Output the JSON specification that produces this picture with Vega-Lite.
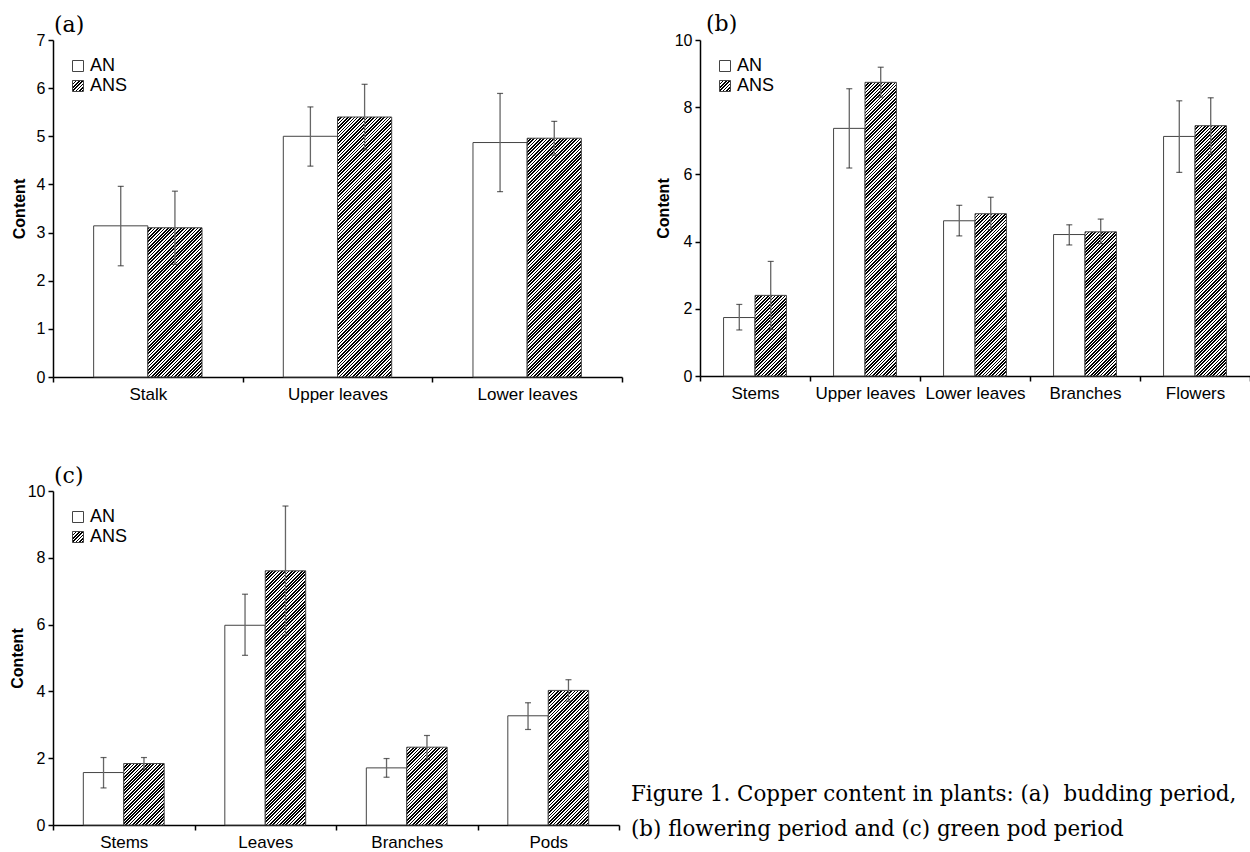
{
"$schema": "https://vega.github.io/schema/vega-lite/v6.json",
"padding": {"left": 9, "top": 13, "right": 0, "bottom": 0},
"background": "white",
"params": [{"name": "hatch", "value": [
{"offset":0,"color":"#000"},{"offset":0.005,"color":"#000"},{"offset":0.005,"color":"#fff"},{"offset":0.01,"color":"#fff"},
{"offset":0.01,"color":"#000"},{"offset":0.015,"color":"#000"},{"offset":0.015,"color":"#fff"},{"offset":0.02,"color":"#fff"},
{"offset":0.02,"color":"#000"},{"offset":0.025,"color":"#000"},{"offset":0.025,"color":"#fff"},{"offset":0.03,"color":"#fff"},
{"offset":0.03,"color":"#000"},{"offset":0.035,"color":"#000"},{"offset":0.035,"color":"#fff"},{"offset":0.04,"color":"#fff"},
{"offset":0.04,"color":"#000"},{"offset":0.045,"color":"#000"},{"offset":0.045,"color":"#fff"},{"offset":0.05,"color":"#fff"},
{"offset":0.05,"color":"#000"},{"offset":0.055,"color":"#000"},{"offset":0.055,"color":"#fff"},{"offset":0.06,"color":"#fff"},
{"offset":0.06,"color":"#000"},{"offset":0.065,"color":"#000"},{"offset":0.065,"color":"#fff"},{"offset":0.07,"color":"#fff"},
{"offset":0.07,"color":"#000"},{"offset":0.075,"color":"#000"},{"offset":0.075,"color":"#fff"},{"offset":0.08,"color":"#fff"},
{"offset":0.08,"color":"#000"},{"offset":0.085,"color":"#000"},{"offset":0.085,"color":"#fff"},{"offset":0.09,"color":"#fff"},
{"offset":0.09,"color":"#000"},{"offset":0.095,"color":"#000"},{"offset":0.095,"color":"#fff"},{"offset":0.1,"color":"#fff"},
{"offset":0.1,"color":"#000"},{"offset":0.105,"color":"#000"},{"offset":0.105,"color":"#fff"},{"offset":0.11,"color":"#fff"},
{"offset":0.11,"color":"#000"},{"offset":0.115,"color":"#000"},{"offset":0.115,"color":"#fff"},{"offset":0.12,"color":"#fff"},
{"offset":0.12,"color":"#000"},{"offset":0.125,"color":"#000"},{"offset":0.125,"color":"#fff"},{"offset":0.13,"color":"#fff"},
{"offset":0.13,"color":"#000"},{"offset":0.135,"color":"#000"},{"offset":0.135,"color":"#fff"},{"offset":0.14,"color":"#fff"},
{"offset":0.14,"color":"#000"},{"offset":0.145,"color":"#000"},{"offset":0.145,"color":"#fff"},{"offset":0.15,"color":"#fff"},
{"offset":0.15,"color":"#000"},{"offset":0.155,"color":"#000"},{"offset":0.155,"color":"#fff"},{"offset":0.16,"color":"#fff"},
{"offset":0.16,"color":"#000"},{"offset":0.165,"color":"#000"},{"offset":0.165,"color":"#fff"},{"offset":0.17,"color":"#fff"},
{"offset":0.17,"color":"#000"},{"offset":0.175,"color":"#000"},{"offset":0.175,"color":"#fff"},{"offset":0.18,"color":"#fff"},
{"offset":0.18,"color":"#000"},{"offset":0.185,"color":"#000"},{"offset":0.185,"color":"#fff"},{"offset":0.19,"color":"#fff"},
{"offset":0.19,"color":"#000"},{"offset":0.195,"color":"#000"},{"offset":0.195,"color":"#fff"},{"offset":0.2,"color":"#fff"},
{"offset":0.2,"color":"#000"},{"offset":0.205,"color":"#000"},{"offset":0.205,"color":"#fff"},{"offset":0.21,"color":"#fff"},
{"offset":0.21,"color":"#000"},{"offset":0.215,"color":"#000"},{"offset":0.215,"color":"#fff"},{"offset":0.22,"color":"#fff"},
{"offset":0.22,"color":"#000"},{"offset":0.225,"color":"#000"},{"offset":0.225,"color":"#fff"},{"offset":0.23,"color":"#fff"},
{"offset":0.23,"color":"#000"},{"offset":0.235,"color":"#000"},{"offset":0.235,"color":"#fff"},{"offset":0.24,"color":"#fff"},
{"offset":0.24,"color":"#000"},{"offset":0.245,"color":"#000"},{"offset":0.245,"color":"#fff"},{"offset":0.25,"color":"#fff"},
{"offset":0.25,"color":"#000"},{"offset":0.255,"color":"#000"},{"offset":0.255,"color":"#fff"},{"offset":0.26,"color":"#fff"},
{"offset":0.26,"color":"#000"},{"offset":0.265,"color":"#000"},{"offset":0.265,"color":"#fff"},{"offset":0.27,"color":"#fff"},
{"offset":0.27,"color":"#000"},{"offset":0.275,"color":"#000"},{"offset":0.275,"color":"#fff"},{"offset":0.28,"color":"#fff"},
{"offset":0.28,"color":"#000"},{"offset":0.285,"color":"#000"},{"offset":0.285,"color":"#fff"},{"offset":0.29,"color":"#fff"},
{"offset":0.29,"color":"#000"},{"offset":0.295,"color":"#000"},{"offset":0.295,"color":"#fff"},{"offset":0.3,"color":"#fff"},
{"offset":0.3,"color":"#000"},{"offset":0.305,"color":"#000"},{"offset":0.305,"color":"#fff"},{"offset":0.31,"color":"#fff"},
{"offset":0.31,"color":"#000"},{"offset":0.315,"color":"#000"},{"offset":0.315,"color":"#fff"},{"offset":0.32,"color":"#fff"},
{"offset":0.32,"color":"#000"},{"offset":0.325,"color":"#000"},{"offset":0.325,"color":"#fff"},{"offset":0.33,"color":"#fff"},
{"offset":0.33,"color":"#000"},{"offset":0.335,"color":"#000"},{"offset":0.335,"color":"#fff"},{"offset":0.34,"color":"#fff"},
{"offset":0.34,"color":"#000"},{"offset":0.345,"color":"#000"},{"offset":0.345,"color":"#fff"},{"offset":0.35,"color":"#fff"},
{"offset":0.35,"color":"#000"},{"offset":0.355,"color":"#000"},{"offset":0.355,"color":"#fff"},{"offset":0.36,"color":"#fff"},
{"offset":0.36,"color":"#000"},{"offset":0.365,"color":"#000"},{"offset":0.365,"color":"#fff"},{"offset":0.37,"color":"#fff"},
{"offset":0.37,"color":"#000"},{"offset":0.375,"color":"#000"},{"offset":0.375,"color":"#fff"},{"offset":0.38,"color":"#fff"},
{"offset":0.38,"color":"#000"},{"offset":0.385,"color":"#000"},{"offset":0.385,"color":"#fff"},{"offset":0.39,"color":"#fff"},
{"offset":0.39,"color":"#000"},{"offset":0.395,"color":"#000"},{"offset":0.395,"color":"#fff"},{"offset":0.4,"color":"#fff"},
{"offset":0.4,"color":"#000"},{"offset":0.405,"color":"#000"},{"offset":0.405,"color":"#fff"},{"offset":0.41,"color":"#fff"},
{"offset":0.41,"color":"#000"},{"offset":0.415,"color":"#000"},{"offset":0.415,"color":"#fff"},{"offset":0.42,"color":"#fff"},
{"offset":0.42,"color":"#000"},{"offset":0.425,"color":"#000"},{"offset":0.425,"color":"#fff"},{"offset":0.43,"color":"#fff"},
{"offset":0.43,"color":"#000"},{"offset":0.435,"color":"#000"},{"offset":0.435,"color":"#fff"},{"offset":0.44,"color":"#fff"},
{"offset":0.44,"color":"#000"},{"offset":0.445,"color":"#000"},{"offset":0.445,"color":"#fff"},{"offset":0.45,"color":"#fff"},
{"offset":0.45,"color":"#000"},{"offset":0.455,"color":"#000"},{"offset":0.455,"color":"#fff"},{"offset":0.46,"color":"#fff"},
{"offset":0.46,"color":"#000"},{"offset":0.465,"color":"#000"},{"offset":0.465,"color":"#fff"},{"offset":0.47,"color":"#fff"},
{"offset":0.47,"color":"#000"},{"offset":0.475,"color":"#000"},{"offset":0.475,"color":"#fff"},{"offset":0.48,"color":"#fff"},
{"offset":0.48,"color":"#000"},{"offset":0.485,"color":"#000"},{"offset":0.485,"color":"#fff"},{"offset":0.49,"color":"#fff"},
{"offset":0.49,"color":"#000"},{"offset":0.495,"color":"#000"},{"offset":0.495,"color":"#fff"},{"offset":0.5,"color":"#fff"},
{"offset":0.5,"color":"#000"},{"offset":0.505,"color":"#000"},{"offset":0.505,"color":"#fff"},{"offset":0.51,"color":"#fff"},
{"offset":0.51,"color":"#000"},{"offset":0.515,"color":"#000"},{"offset":0.515,"color":"#fff"},{"offset":0.52,"color":"#fff"},
{"offset":0.52,"color":"#000"},{"offset":0.525,"color":"#000"},{"offset":0.525,"color":"#fff"},{"offset":0.53,"color":"#fff"},
{"offset":0.53,"color":"#000"},{"offset":0.535,"color":"#000"},{"offset":0.535,"color":"#fff"},{"offset":0.54,"color":"#fff"},
{"offset":0.54,"color":"#000"},{"offset":0.545,"color":"#000"},{"offset":0.545,"color":"#fff"},{"offset":0.55,"color":"#fff"},
{"offset":0.55,"color":"#000"},{"offset":0.555,"color":"#000"},{"offset":0.555,"color":"#fff"},{"offset":0.56,"color":"#fff"},
{"offset":0.56,"color":"#000"},{"offset":0.565,"color":"#000"},{"offset":0.565,"color":"#fff"},{"offset":0.57,"color":"#fff"},
{"offset":0.57,"color":"#000"},{"offset":0.575,"color":"#000"},{"offset":0.575,"color":"#fff"},{"offset":0.58,"color":"#fff"},
{"offset":0.58,"color":"#000"},{"offset":0.585,"color":"#000"},{"offset":0.585,"color":"#fff"},{"offset":0.59,"color":"#fff"},
{"offset":0.59,"color":"#000"},{"offset":0.595,"color":"#000"},{"offset":0.595,"color":"#fff"},{"offset":0.6,"color":"#fff"},
{"offset":0.6,"color":"#000"},{"offset":0.605,"color":"#000"},{"offset":0.605,"color":"#fff"},{"offset":0.61,"color":"#fff"},
{"offset":0.61,"color":"#000"},{"offset":0.615,"color":"#000"},{"offset":0.615,"color":"#fff"},{"offset":0.62,"color":"#fff"},
{"offset":0.62,"color":"#000"},{"offset":0.625,"color":"#000"},{"offset":0.625,"color":"#fff"},{"offset":0.63,"color":"#fff"},
{"offset":0.63,"color":"#000"},{"offset":0.635,"color":"#000"},{"offset":0.635,"color":"#fff"},{"offset":0.64,"color":"#fff"},
{"offset":0.64,"color":"#000"},{"offset":0.645,"color":"#000"},{"offset":0.645,"color":"#fff"},{"offset":0.65,"color":"#fff"},
{"offset":0.65,"color":"#000"},{"offset":0.655,"color":"#000"},{"offset":0.655,"color":"#fff"},{"offset":0.66,"color":"#fff"},
{"offset":0.66,"color":"#000"},{"offset":0.665,"color":"#000"},{"offset":0.665,"color":"#fff"},{"offset":0.67,"color":"#fff"},
{"offset":0.67,"color":"#000"},{"offset":0.675,"color":"#000"},{"offset":0.675,"color":"#fff"},{"offset":0.68,"color":"#fff"},
{"offset":0.68,"color":"#000"},{"offset":0.685,"color":"#000"},{"offset":0.685,"color":"#fff"},{"offset":0.69,"color":"#fff"},
{"offset":0.69,"color":"#000"},{"offset":0.695,"color":"#000"},{"offset":0.695,"color":"#fff"},{"offset":0.7,"color":"#fff"},
{"offset":0.7,"color":"#000"},{"offset":0.705,"color":"#000"},{"offset":0.705,"color":"#fff"},{"offset":0.71,"color":"#fff"},
{"offset":0.71,"color":"#000"},{"offset":0.715,"color":"#000"},{"offset":0.715,"color":"#fff"},{"offset":0.72,"color":"#fff"},
{"offset":0.72,"color":"#000"},{"offset":0.725,"color":"#000"},{"offset":0.725,"color":"#fff"},{"offset":0.73,"color":"#fff"},
{"offset":0.73,"color":"#000"},{"offset":0.735,"color":"#000"},{"offset":0.735,"color":"#fff"},{"offset":0.74,"color":"#fff"},
{"offset":0.74,"color":"#000"},{"offset":0.745,"color":"#000"},{"offset":0.745,"color":"#fff"},{"offset":0.75,"color":"#fff"},
{"offset":0.75,"color":"#000"},{"offset":0.755,"color":"#000"},{"offset":0.755,"color":"#fff"},{"offset":0.76,"color":"#fff"},
{"offset":0.76,"color":"#000"},{"offset":0.765,"color":"#000"},{"offset":0.765,"color":"#fff"},{"offset":0.77,"color":"#fff"},
{"offset":0.77,"color":"#000"},{"offset":0.775,"color":"#000"},{"offset":0.775,"color":"#fff"},{"offset":0.78,"color":"#fff"},
{"offset":0.78,"color":"#000"},{"offset":0.785,"color":"#000"},{"offset":0.785,"color":"#fff"},{"offset":0.79,"color":"#fff"},
{"offset":0.79,"color":"#000"},{"offset":0.795,"color":"#000"},{"offset":0.795,"color":"#fff"},{"offset":0.8,"color":"#fff"},
{"offset":0.8,"color":"#000"},{"offset":0.805,"color":"#000"},{"offset":0.805,"color":"#fff"},{"offset":0.81,"color":"#fff"},
{"offset":0.81,"color":"#000"},{"offset":0.815,"color":"#000"},{"offset":0.815,"color":"#fff"},{"offset":0.82,"color":"#fff"},
{"offset":0.82,"color":"#000"},{"offset":0.825,"color":"#000"},{"offset":0.825,"color":"#fff"},{"offset":0.83,"color":"#fff"},
{"offset":0.83,"color":"#000"},{"offset":0.835,"color":"#000"},{"offset":0.835,"color":"#fff"},{"offset":0.84,"color":"#fff"},
{"offset":0.84,"color":"#000"},{"offset":0.845,"color":"#000"},{"offset":0.845,"color":"#fff"},{"offset":0.85,"color":"#fff"},
{"offset":0.85,"color":"#000"},{"offset":0.855,"color":"#000"},{"offset":0.855,"color":"#fff"},{"offset":0.86,"color":"#fff"},
{"offset":0.86,"color":"#000"},{"offset":0.865,"color":"#000"},{"offset":0.865,"color":"#fff"},{"offset":0.87,"color":"#fff"},
{"offset":0.87,"color":"#000"},{"offset":0.875,"color":"#000"},{"offset":0.875,"color":"#fff"},{"offset":0.88,"color":"#fff"},
{"offset":0.88,"color":"#000"},{"offset":0.885,"color":"#000"},{"offset":0.885,"color":"#fff"},{"offset":0.89,"color":"#fff"},
{"offset":0.89,"color":"#000"},{"offset":0.895,"color":"#000"},{"offset":0.895,"color":"#fff"},{"offset":0.9,"color":"#fff"},
{"offset":0.9,"color":"#000"},{"offset":0.905,"color":"#000"},{"offset":0.905,"color":"#fff"},{"offset":0.91,"color":"#fff"},
{"offset":0.91,"color":"#000"},{"offset":0.915,"color":"#000"},{"offset":0.915,"color":"#fff"},{"offset":0.92,"color":"#fff"},
{"offset":0.92,"color":"#000"},{"offset":0.925,"color":"#000"},{"offset":0.925,"color":"#fff"},{"offset":0.93,"color":"#fff"},
{"offset":0.93,"color":"#000"},{"offset":0.935,"color":"#000"},{"offset":0.935,"color":"#fff"},{"offset":0.94,"color":"#fff"},
{"offset":0.94,"color":"#000"},{"offset":0.945,"color":"#000"},{"offset":0.945,"color":"#fff"},{"offset":0.95,"color":"#fff"},
{"offset":0.95,"color":"#000"},{"offset":0.955,"color":"#000"},{"offset":0.955,"color":"#fff"},{"offset":0.96,"color":"#fff"},
{"offset":0.96,"color":"#000"},{"offset":0.965,"color":"#000"},{"offset":0.965,"color":"#fff"},{"offset":0.97,"color":"#fff"},
{"offset":0.97,"color":"#000"},{"offset":0.975,"color":"#000"},{"offset":0.975,"color":"#fff"},{"offset":0.98,"color":"#fff"},
{"offset":0.98,"color":"#000"},{"offset":0.985,"color":"#000"},{"offset":0.985,"color":"#fff"},{"offset":0.99,"color":"#fff"},
{"offset":0.99,"color":"#000"},{"offset":0.995,"color":"#000"},{"offset":0.995,"color":"#fff"},{"offset":1,"color":"#fff"}
]}],
"datasets": {
"a": [
{"part":"Stalk","group":"AN","value":3.14,"lo":2.31,"hi":3.96},
{"part":"Stalk","group":"ANS","value":3.10,"lo":2.34,"hi":3.86},
{"part":"Upper leaves","group":"AN","value":5.00,"lo":4.38,"hi":5.61},
{"part":"Upper leaves","group":"ANS","value":5.40,"lo":4.72,"hi":6.08},
{"part":"Lower leaves","group":"AN","value":4.87,"lo":3.85,"hi":5.89},
{"part":"Lower leaves","group":"ANS","value":4.96,"lo":4.61,"hi":5.31}
],
"b": [
{"part":"Stems","group":"AN","value":1.74,"lo":1.37,"hi":2.13},
{"part":"Stems","group":"ANS","value":2.40,"lo":1.38,"hi":3.41},
{"part":"Upper leaves","group":"AN","value":7.37,"lo":6.19,"hi":8.55},
{"part":"Upper leaves","group":"ANS","value":8.74,"lo":8.30,"hi":9.19},
{"part":"Lower leaves","group":"AN","value":4.62,"lo":4.17,"hi":5.08},
{"part":"Lower leaves","group":"ANS","value":4.83,"lo":4.36,"hi":5.32},
{"part":"Branches","group":"AN","value":4.21,"lo":3.90,"hi":4.50},
{"part":"Branches","group":"ANS","value":4.29,"lo":3.94,"hi":4.67},
{"part":"Flowers","group":"AN","value":7.13,"lo":6.06,"hi":8.19},
{"part":"Flowers","group":"ANS","value":7.45,"lo":6.60,"hi":8.28}
],
"c": [
{"part":"Stems","group":"AN","value":1.57,"lo":1.11,"hi":2.02},
{"part":"Stems","group":"ANS","value":1.84,"lo":1.66,"hi":2.02},
{"part":"Leaves","group":"AN","value":5.98,"lo":5.08,"hi":6.91},
{"part":"Leaves","group":"ANS","value":7.61,"lo":5.68,"hi":9.55},
{"part":"Branches","group":"AN","value":1.71,"lo":1.43,"hi":1.99},
{"part":"Branches","group":"ANS","value":2.33,"lo":1.96,"hi":2.68},
{"part":"Pods","group":"AN","value":3.27,"lo":2.86,"hi":3.66},
{"part":"Pods","group":"ANS","value":4.03,"lo":3.71,"hi":4.35}
]
},
"config": {
"view": {"stroke": null},
"font": "Liberation Sans",
"axis": {"domainColor": "#000", "domainWidth": 1.5, "tickColor": "#000", "tickWidth": 1.5, "tickSize": 5, "labelColor": "#000", "labelFont": "Liberation Sans", "grid": false, "titleFont": "Liberation Sans", "titleColor": "#000"},
"title": {"font": "DejaVu Serif", "fontSize": 22, "fontWeight": "normal", "color": "#000", "anchor": "start", "frame": "group", "baseline": "alphabetic"},
"legend": {"title": null, "orient": "none", "legendX": 16, "legendY": 17, "symbolType": "square", "symbolSize": 121, "symbolStrokeColor": "#444", "symbolStrokeWidth": 1, "labelFontSize": 18, "labelFont": "Liberation Sans", "labelColor": "#000", "labelOffset": 3, "rowPadding": 2, "padding": 0}
},
"spacing": 63,
"resolve": {"scale": {"fill": "independent", "xOffset": "independent"}, "legend": {"fill": "independent"}},
"vconcat": [
{"hconcat": [
{
"name": "pa",
"width": 569, "height": 337,
"data": {"name": "a"},
"title": {"text": "(a)", "dx": 1, "offset": -5},
"encoding": {
"x": {"field": "part", "type": "nominal", "sort": null, "scale": {"paddingInner": 0, "paddingOuter": 0}, "axis": {"title": null, "labelAngle": 0, "labelFontSize": 17, "labelPadding": 4, "tickBand": "extent"}},
"xOffset": {"field": "group", "type": "nominal", "scale": {"domain": ["AN", "ANS"], "paddingInner": 0, "paddingOuter": 0.75}}
},
"layer": [
{"transform": [{"filter": "datum.group === 'AN'"}],
"mark": {"type": "bar", "stroke": "#444", "strokeWidth": 1},
"encoding": {
"y": {"field": "value", "type": "quantitative", "stack": null, "title": "Content", "scale": {"domain": [0, 7], "nice": false}, "axis": {"values": [0,1,2,3,4,5,6,7], "labelFontSize": 16, "labelPadding": 3, "titleFontSize": 16, "titleFontWeight": "bold", "titleX": -34, "titleAngle": 270, "titleBaseline": "middle", "titleAlign": "center"}},
"fill": {"field": "group", "type": "nominal", "scale": {"domain": ["AN", "ANS"], "range": ["#fff", {"expr": "{gradient:'linear',x1:0,y1:0,x2:15,y2:15,stops:hatch}"}]}, "legend": {}}
}},
{"transform": [{"filter": "datum.group === 'ANS'"}],
"mark": {"type": "bar", "stroke": "#444", "strokeWidth": 1, "fill": {"expr": "{gradient:'linear',x1:0,y1:0,x2:330*(bandwidth('pa_x')/3.5)/(pow(bandwidth('pa_x')/3.5,2)+pow(scale('pa_y',0)-scale('pa_y',datum.value),2)),y2:330*(scale('pa_y',0)-scale('pa_y',datum.value))/(pow(bandwidth('pa_x')/3.5,2)+pow(scale('pa_y',0)-scale('pa_y',datum.value),2)),stops:hatch}"}},
"encoding": {"y": {"field": "value", "type": "quantitative", "stack": null, "title": "Content"}}
},
{"mark": {"type": "rule", "color": "#666", "strokeWidth": 1.3},
"encoding": {"y": {"field": "lo", "type": "quantitative", "title": "Content"}, "y2": {"field": "hi"}}},
{"mark": {"type": "tick", "orient": "horizontal", "size": 6, "thickness": 1.2, "color": "#222"},
"encoding": {"y": {"field": "lo", "type": "quantitative", "title": "Content"}}},
{"mark": {"type": "tick", "orient": "horizontal", "size": 6, "thickness": 1.2, "color": "#222"},
"encoding": {"y": {"field": "hi", "type": "quantitative", "title": "Content"}}}
]
},
{
"name": "pb",
"width": 550, "height": 336,
"data": {"name": "b"},
"title": {"text": "(b)", "dx": 6, "offset": -4},
"encoding": {
"x": {"field": "part", "type": "nominal", "sort": null, "scale": {"paddingInner": 0, "paddingOuter": 0}, "axis": {"title": null, "labelAngle": 0, "labelFontSize": 17, "labelPadding": 4, "tickBand": "extent"}},
"xOffset": {"field": "group", "type": "nominal", "scale": {"domain": ["AN", "ANS"], "paddingInner": 0, "paddingOuter": 0.75}}
},
"layer": [
{"transform": [{"filter": "datum.group === 'AN'"}],
"mark": {"type": "bar", "stroke": "#444", "strokeWidth": 1},
"encoding": {
"y": {"field": "value", "type": "quantitative", "stack": null, "title": "Content", "scale": {"domain": [0, 10], "nice": false}, "axis": {"values": [0,2,4,6,8,10], "labelFontSize": 16, "labelPadding": 3, "titleFontSize": 16, "titleFontWeight": "bold", "titleX": -37, "titleAngle": 270, "titleBaseline": "middle", "titleAlign": "center"}},
"fill": {"field": "group", "type": "nominal", "scale": {"domain": ["AN", "ANS"], "range": ["#fff", {"expr": "{gradient:'linear',x1:0,y1:0,x2:15,y2:15,stops:hatch}"}]}, "legend": {}}
}},
{"transform": [{"filter": "datum.group === 'ANS'"}],
"mark": {"type": "bar", "stroke": "#444", "strokeWidth": 1, "fill": {"expr": "{gradient:'linear',x1:0,y1:0,x2:330*(bandwidth('pb_x')/3.5)/(pow(bandwidth('pb_x')/3.5,2)+pow(scale('pb_y',0)-scale('pb_y',datum.value),2)),y2:330*(scale('pb_y',0)-scale('pb_y',datum.value))/(pow(bandwidth('pb_x')/3.5,2)+pow(scale('pb_y',0)-scale('pb_y',datum.value),2)),stops:hatch}"}},
"encoding": {"y": {"field": "value", "type": "quantitative", "stack": null, "title": "Content"}}
},
{"mark": {"type": "rule", "color": "#666", "strokeWidth": 1.3},
"encoding": {"y": {"field": "lo", "type": "quantitative", "title": "Content"}, "y2": {"field": "hi"}}},
{"mark": {"type": "tick", "orient": "horizontal", "size": 6, "thickness": 1.2, "color": "#222"},
"encoding": {"y": {"field": "lo", "type": "quantitative", "title": "Content"}}},
{"mark": {"type": "tick", "orient": "horizontal", "size": 6, "thickness": 1.2, "color": "#222"},
"encoding": {"y": {"field": "hi", "type": "quantitative", "title": "Content"}}}
]
}
], "spacing": 32, "resolve": {"scale": {"fill": "independent", "xOffset": "independent"}, "legend": {"fill": "independent"}}},
{"hconcat": [
{
"name": "pc",
"width": 566, "height": 334,
"data": {"name": "c"},
"title": {"text": "(c)", "dx": 1, "offset": -5},
"encoding": {
"x": {"field": "part", "type": "nominal", "sort": null, "scale": {"paddingInner": 0, "paddingOuter": 0}, "axis": {"title": null, "labelAngle": 0, "labelFontSize": 17, "labelPadding": 4, "tickBand": "extent"}},
"xOffset": {"field": "group", "type": "nominal", "scale": {"domain": ["AN", "ANS"], "paddingInner": 0, "paddingOuter": 0.75}}
},
"layer": [
{"transform": [{"filter": "datum.group === 'AN'"}],
"mark": {"type": "bar", "stroke": "#444", "strokeWidth": 1},
"encoding": {
"y": {"field": "value", "type": "quantitative", "stack": null, "title": "Content", "scale": {"domain": [0, 10], "nice": false}, "axis": {"values": [0,2,4,6,8,10], "labelFontSize": 16, "labelPadding": 3, "titleFontSize": 16, "titleFontWeight": "bold", "titleX": -36, "titleAngle": 270, "titleBaseline": "middle", "titleAlign": "center"}},
"fill": {"field": "group", "type": "nominal", "scale": {"domain": ["AN", "ANS"], "range": ["#fff", {"expr": "{gradient:'linear',x1:0,y1:0,x2:15,y2:15,stops:hatch}"}]}, "legend": {}}
}},
{"transform": [{"filter": "datum.group === 'ANS'"}],
"mark": {"type": "bar", "stroke": "#444", "strokeWidth": 1, "fill": {"expr": "{gradient:'linear',x1:0,y1:0,x2:330*(bandwidth('pc_x')/3.5)/(pow(bandwidth('pc_x')/3.5,2)+pow(scale('pc_y',0)-scale('pc_y',datum.value),2)),y2:330*(scale('pc_y',0)-scale('pc_y',datum.value))/(pow(bandwidth('pc_x')/3.5,2)+pow(scale('pc_y',0)-scale('pc_y',datum.value),2)),stops:hatch}"}},
"encoding": {"y": {"field": "value", "type": "quantitative", "stack": null, "title": "Content"}}
},
{"mark": {"type": "rule", "color": "#666", "strokeWidth": 1.3},
"encoding": {"y": {"field": "lo", "type": "quantitative", "title": "Content"}, "y2": {"field": "hi"}}},
{"mark": {"type": "tick", "orient": "horizontal", "size": 6, "thickness": 1.2, "color": "#222"},
"encoding": {"y": {"field": "lo", "type": "quantitative", "title": "Content"}}},
{"mark": {"type": "tick", "orient": "horizontal", "size": 6, "thickness": 1.2, "color": "#222"},
"encoding": {"y": {"field": "hi", "type": "quantitative", "title": "Content"}}}
]
},
{
"width": 600, "height": 293,
"data": {"values": [{}]},
"mark": {"type": "point", "opacity": 0},
"title": {"text": ["Figure 1. Copper content in plants: (a)\u00a0 budding period,", "(b) flowering period and (c) green pod period"], "orient": "bottom", "anchor": "start", "frame": "group", "font": "DejaVu Serif", "fontSize": 21.4, "baseline": "top", "offset": 0, "lineHeight": 35, "dx": 0}
}
], "spacing": 11, "resolve": {"scale": {"fill": "independent", "xOffset": "independent"}, "legend": {"fill": "independent"}}}
]
}
